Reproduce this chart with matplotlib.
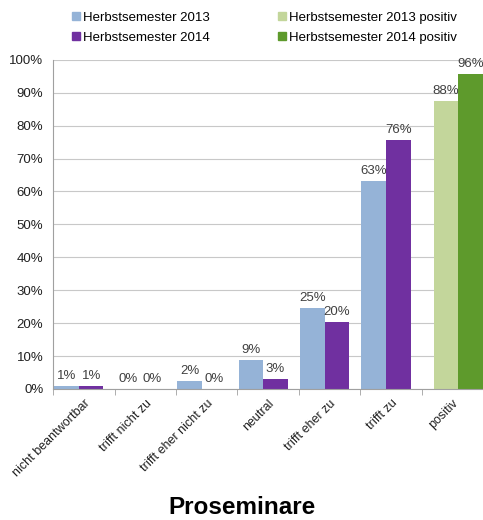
import numpy as np
import matplotlib.pyplot as plt
from matplotlib.patches import Patch

# Kategorien und Werte (Anteile in %)
categories = ['nicht beantwortbar', 'trifft nicht zu', 'trifft eher nicht zu',
              'neutral', 'trifft eher zu', 'trifft zu', 'positiv']
hs2013 = [1.0, 0.0, 2.4, 8.7, 24.5, 63.3]
hs2014 = [0.8, 0.0, 0.0, 3.0, 20.3, 75.7]
hs2013_pos = [87.4]
hs2014_pos = [95.8]
labels2013 = ['1%', '0%', '2%', '9%', '25%', '63%']
labels2014 = ['1%', '0%', '0%', '3%', '20%', '76%']
labels_pos = ['88%', '96%']

c2013 = '#95B3D7'
c2014 = '#7030A0'
c2013p = '#C3D69B'
c2014p = '#5E9A2C'
txt = '#404040'

plt.rcParams['font.family'] = ['Liberation Sans', 'DejaVu Sans']
fs = 9.5

fig = plt.figure(figsize=(4.83, 5.2), dpi=100)
ax = fig.add_axes([0.11, 0.252, 0.89, 0.633])

w = 0.4
x = np.arange(len(hs2013))
# Balken wie im Excel-Original: links im Kategoriefeld
b1 = ax.bar(x - 0.48, hs2013, w, color=c2013, align='edge')
b2 = ax.bar(x - 0.08, hs2014, w, color=c2014, align='edge')
xp = np.array([len(categories) - 1])
b3 = ax.bar(xp - 0.3, hs2013_pos, w, color=c2013p, align='edge')
b4 = ax.bar(xp + 0.1, hs2014_pos, w, color=c2014p, align='edge')

for bars, labs in [(b1, labels2013), (b2, labels2014),
                   (list(b3) + list(b4), labels_pos)]:
    for b, lab in zip(bars, labs):
        ax.text(b.get_x() + b.get_width() / 2, b.get_height() + 1.2, lab,
                ha='center', va='bottom', fontsize=fs, color=txt)

ax.set_ylim(0, 100)
ax.set_xlim(-0.5, len(categories) - 0.5)
ax.set_yticks(np.arange(0, 101, 10))
ax.set_yticklabels(['%d%%' % v for v in range(0, 101, 10)], fontsize=fs, color='#202020')
ax.yaxis.grid(True, color='#C8C8C8', linewidth=0.8)
ax.set_axisbelow(True)
ax.tick_params(axis='y', length=0, pad=7)

ax.set_xticks(np.arange(len(categories)))
ax.set_xticklabels(categories, rotation=45, ha='right', rotation_mode='anchor',
                   fontsize=9, color='#202020')
ax.tick_params(axis='x', length=0, pad=6)
ax.set_xticks(np.arange(len(categories) + 1) - 0.5, minor=True)
ax.tick_params(axis='x', which='minor', length=4, color='#A0A0A0')

for s in ['top', 'right']:
    ax.spines[s].set_visible(False)
for s in ['left', 'bottom']:
    ax.spines[s].set_color('#A0A0A0')

handles = [Patch(color=c2013), Patch(color=c2014), Patch(color=c2013p), Patch(color=c2014p)]
names = ['Herbstsemester 2013', 'Herbstsemester 2014',
         'Herbstsemester 2013 positiv', 'Herbstsemester 2014 positiv']
fig.legend(handles, names, ncol=2, loc='upper left', bbox_to_anchor=(0.125, 1.0),
           frameon=False, fontsize=fs, handlelength=0.6, handleheight=0.6,
           handletextpad=0.2, columnspacing=5.2, labelspacing=0.6)

fig.text(0.5, 0.025, 'Proseminare', ha='center', va='center', fontsize=17.5,
         fontweight='bold')

fig.savefig('out.png', dpi=100)
